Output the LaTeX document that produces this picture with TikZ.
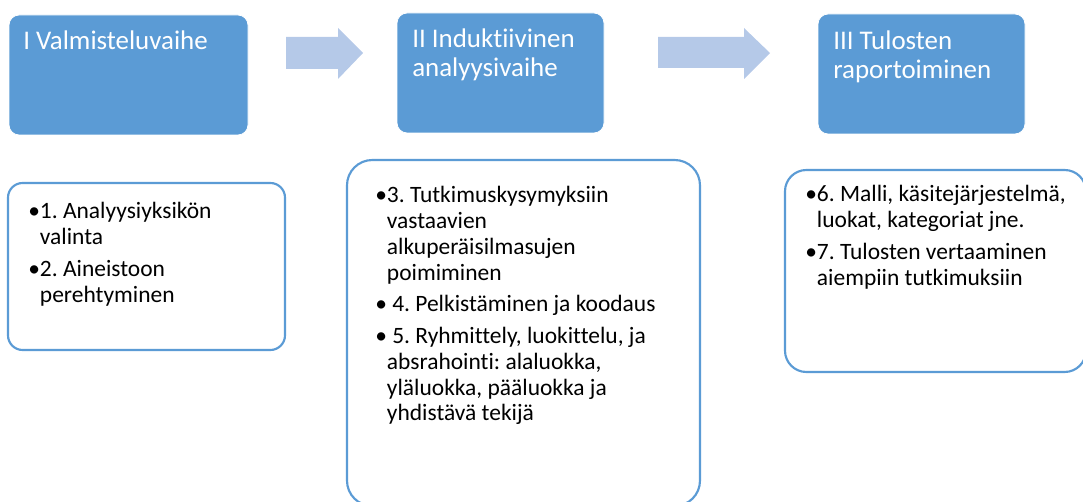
\documentclass[tikz,border=0pt]{standalone}
\usepackage{fontspec}
\setmainfont{Carlito}[Ligatures={NoCommon}]
\frenchspacing
\definecolor{accent}{HTML}{5B9BD5}
\definecolor{arrowc}{HTML}{B5C9E8}
\begin{document}
\begin{tikzpicture}[x=0.75pt,y=-0.75pt,
  phase/.style={fill=accent,draw=white,line width=0.6pt,rounded corners=7.5pt},
  listbox/.style={draw=accent,line width=1.6pt,fill=white},
  titletext/.style={anchor=base west,inner sep=0pt,text=white,
    font=\fontsize{20.2}{21.6}\selectfont\frenchspacing},
  listtext/.style={anchor=base west,inner sep=0pt,text=black,
    font=\fontsize{17.6}{19.3}\selectfont\frenchspacing},
  blockarrow/.style={fill=arrowc,draw=none}]
\useasboundingbox (0,0) rectangle (1083,502);
\clip (0,0) rectangle (1083,502);
% top phase boxes
\path[phase] (9,15) rectangle (248,135);
\path[phase] (397,13) rectangle (604,133);
\path[phase] (818,14) rectangle (1025,134);
\node[titletext] (t1) at (23,50) {I Valmisteluvaihe};
\node[titletext] (t2) at (412,48) {\begin{tabular}[t]{@{}l@{}}II Induktiivinen\\analyysivaihe\end{tabular}};
\node[titletext] (t3) at (833,50) {\begin{tabular}[t]{@{}l@{}}III Tulosten\\raportoiminen\end{tabular}};
% block arrows
\fill[blockarrow] (286,37) -- (338,37) -- (338,28) -- (363,53) -- (338,79) -- (338,69) -- (286,69) -- cycle;
\fill[blockarrow] (658,37) -- (744,37) -- (744,28) -- (770,53) -- (744,79) -- (744,68) -- (658,68) -- cycle;
% lower list boxes
\draw[listbox,rounded corners=11pt] (8,183) rectangle (285,350);
\draw[listbox,rounded corners=19pt] (347,160) rectangle (700,506);
\draw[listbox,rounded corners=16pt] (785,170) rectangle (1086,372);
\node[listtext] (l1) at (28,219) {\begin{tabular}[t]{@{}l@{}l@{}}
•&1. Analyysiyksikön\\
 &valinta\\[4.5pt]
•&2. Aineistoon\\
 &perehtyminen
\end{tabular}};
\node[listtext] (l2) at (375,203) {\begin{tabular}[t]{@{}l@{}l@{}}
•&3. Tutkimuskysymyksiin\\
 &vastaavien\\
 &alkuperäisilmasujen\\
 &poimiminen\\[4.5pt]
•&\ 4. Pelkistäminen ja koodaus\\[4.5pt]
•&\ 5. Ryhmittely, luokittelu, ja\\
 &absrahointi: alaluokka,\\
 &yläluokka, pääluokka ja\\
 &yhdistävä tekijä
\end{tabular}};
\node[listtext] (l3) at (805,202) {\begin{tabular}[t]{@{}l@{}l@{}}
•&6. Malli, käsitejärjestelmä,\\
 &luokat, kategoriat jne.\\[4.5pt]
•&7. Tulosten vertaaminen\\
 &aiempiin tutkimuksiin
\end{tabular}};
\end{tikzpicture}
\end{document}
